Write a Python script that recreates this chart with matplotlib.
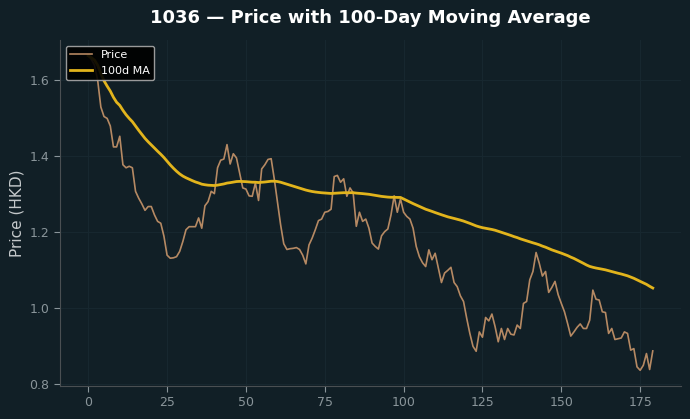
import numpy as np
import pandas as pd
import matplotlib
matplotlib.use("Agg")
import matplotlib.pyplot as plt

title = "1036 \u2014 Price with 100-Day Moving Average"
ylabel = "Price (HKD)"
ma_window = 100

price = [
    1.665, 1.655, 1.64, 1.60, 1.53, 1.505, 1.50, 1.48, 1.425, 1.425,
    1.453, 1.378, 1.37, 1.374, 1.37, 1.308, 1.29, 1.275, 1.258, 1.268,
    1.268, 1.246, 1.229, 1.224, 1.19, 1.14, 1.132, 1.133, 1.136, 1.15,
    1.176, 1.207, 1.215, 1.215, 1.215, 1.238, 1.211, 1.27, 1.281, 1.308,
    1.302, 1.37, 1.39, 1.393, 1.431, 1.38, 1.407, 1.396, 1.356, 1.317,
    1.314, 1.296, 1.295, 1.33, 1.284, 1.367, 1.378, 1.392, 1.394, 1.34,
    1.28, 1.22, 1.17, 1.155, 1.157, 1.158, 1.16, 1.155, 1.14, 1.117,
    1.167, 1.185, 1.207, 1.231, 1.235, 1.253, 1.255, 1.261, 1.347, 1.35,
    1.332, 1.341, 1.295, 1.317, 1.304, 1.216, 1.253, 1.229, 1.235, 1.211,
    1.172, 1.163, 1.156, 1.191, 1.202, 1.209, 1.246, 1.296, 1.253, 1.288,
    1.253, 1.242, 1.235, 1.211, 1.163, 1.136, 1.12, 1.11, 1.154, 1.128,
    1.145, 1.106, 1.068, 1.093, 1.10, 1.108, 1.068, 1.057, 1.033, 1.018,
    0.974, 0.934, 0.90, 0.887, 0.938, 0.924, 0.976, 0.967, 0.985, 0.952,
    0.912, 0.947, 0.918, 0.947, 0.932, 0.93, 0.956, 0.947, 1.013, 1.018,
    1.075, 1.097, 1.147, 1.119, 1.085, 1.097, 1.042, 1.055, 1.071, 1.036,
    1.013, 0.991, 0.96, 0.927, 0.938, 0.95, 0.959, 0.947, 0.947, 0.969,
    1.048, 1.024, 1.022, 0.991, 0.989, 0.934, 0.947, 0.918, 0.92, 0.922,
    0.938, 0.934, 0.89, 0.894, 0.846, 0.837, 0.85, 0.881, 0.839, 0.888,
]

days = np.arange(len(price))
ma = pd.Series(price).rolling(ma_window, min_periods=1).mean()

bg = "#111f26"
fig = plt.figure(figsize=(6.9, 4.19), dpi=100, facecolor=bg)
ax = fig.add_axes([60/690, 1-386/419, (681-60)/690, (386-40)/419])
ax.set_facecolor(bg)

ax.plot(days, price, color="#c8956a", lw=1.2, alpha=0.9, label="Price")
ax.plot(days, ma, color="#e2b41c", lw=2.0, label="100d MA")

ax.grid(True, color="#17272f", lw=0.8)
ax.set_axisbelow(True)
for s in ["top", "right"]:
    ax.spines[s].set_visible(False)
for s in ["left", "bottom"]:
    ax.spines[s].set_color("#4a4f52")
ax.tick_params(colors="#8a959a", labelsize=9, length=4)
ax.set_yticks([0.8, 1.0, 1.2, 1.4, 1.6])
ax.set_xticks([0, 25, 50, 75, 100, 125, 150, 175])

ax.set_ylabel(ylabel, color="#c5c9cb", fontsize=11)
fig.suptitle(title, color="white", fontsize=13, fontweight="bold", x=370/690, y=1-18/419, va="center")

leg = ax.legend(loc="upper left", fontsize=8, facecolor="black", edgecolor="#aaaaaa",
                framealpha=0.9)
for t in leg.get_texts():
    t.set_color("white")

fig.savefig("out.png", dpi=100, facecolor=bg)
